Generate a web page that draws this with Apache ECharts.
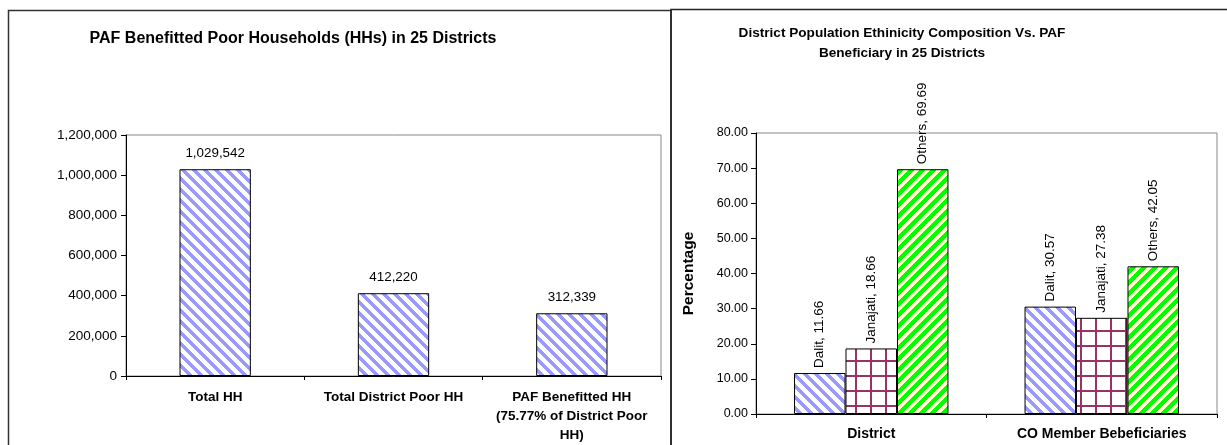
<!DOCTYPE html>
<html>
<head>
<meta charset="utf-8">
<script src="https://cdn.jsdelivr.net/npm/echarts@6/dist/echarts.min.js"></script>
<style>
html,body{margin:0;padding:0;background:#fff;}
#chart{width:1227px;height:445px;}
</style>
</head>
<body>
<div id="chart"></div>
<script>
// ---- data ----
var hhCategories = ['Total HH', 'Total District Poor HH', 'PAF Benefitted HH\n(75.77% of District Poor\nHH)'];
var hhValues = [1029542, 412220, 312339];
var hhTicks = [0, 200000, 400000, 600000, 800000, 1000000, 1200000];

var ethCategories = ['District', 'CO Member Bebeficiaries'];
var dalitValues = [11.66, 30.57];
var janajatiValues = [18.66, 27.38];
var othersValues = [69.69, 42.05];
var ethTicks = [0, 10, 20, 30, 40, 50, 60, 70, 80];

// ---- patterns ----
function stripePattern(bg, fg, dir, period, width) {
  var c = document.createElement('canvas');
  c.width = period; c.height = period;
  var ctx = c.getContext('2d');
  var img = ctx.createImageData(period, period);
  function hex(h){return [parseInt(h.substr(1,2),16),parseInt(h.substr(3,2),16),parseInt(h.substr(5,2),16)];}
  var b = hex(bg), f = hex(fg);
  for (var y = 0; y < period; y++) {
    for (var x = 0; x < period; x++) {
      var k = dir > 0 ? (x - y) : (x + y);
      k = ((k % period) + period) % period;
      var col = k < width ? f : b;
      var i = (y * period + x) * 4;
      img.data[i] = col[0]; img.data[i+1] = col[1]; img.data[i+2] = col[2]; img.data[i+3] = 255;
    }
  }
  ctx.putImageData(img, 0, 0);
  return {image: c, repeat: 'repeat'};
}
function gridPattern(bg, fg, size, lw) {
  var c = document.createElement('canvas');
  c.width = size; c.height = size;
  var ctx = c.getContext('2d');
  ctx.fillStyle = bg; ctx.fillRect(0, 0, size, size);
  ctx.fillStyle = fg;
  ctx.fillRect(0, 0, lw, size);
  ctx.fillRect(0, 0, size, lw);
  return {image: c, repeat: 'repeat'};
}
var blueStripe = stripePattern('#ffffff', '#9999ff', 1, 11, 5);
var greenStripe = stripePattern('#ffffcc', '#00ff00', -1, 11, 6);
var maroonGrid = gridPattern('#ffffff', '#993366', 15, 2);

function commas(v) { return String(v).replace(/\B(?=(\d{3})+(?!\d))/g, ','); }

var FONT = 'Liberation Sans, Arial, sans-serif';

var chart = echarts.init(document.getElementById('chart'), null, {renderer: 'canvas'});

var rotLabel = {
  show: true, position: 'top', rotate: 90, align: 'left', verticalAlign: 'middle',
  distance: 5, color: '#000', fontFamily: FONT, fontSize: 13.5,
  formatter: function (p) { return p.seriesName + ', ' + p.value.toFixed(2); }
};
var barBorder = {borderColor: '#000', borderWidth: 1};

chart.setOption({
  animation: false,
  textStyle: {fontFamily: FONT},
  title: [
    {text: 'PAF Benefitted Poor Households (HHs) in 25 Districts', left: 293, top: 31, textAlign: 'center', padding: 0,
     textStyle: {fontFamily: FONT, fontSize: 16, fontWeight: 'bold', color: '#000'}},
    {text: 'District Population Ethinicity Composition Vs. PAF\nBeneficiary in 25 Districts', left: 902, top: 23, textAlign: 'center', padding: 0,
     textStyle: {fontFamily: FONT, fontSize: 13.6, fontWeight: 'bold', color: '#000', lineHeight: 20}}
  ],
  graphic: [
    {type: 'rect', shape: {x: 8.5, y: 10.5, width: 662.5, height: 460}, style: {fill: 'none', stroke: '#333', lineWidth: 1.5}, z: 100},
    {type: 'rect', shape: {x: 671, y: 9.5, width: 600, height: 460}, style: {fill: 'none', stroke: '#222', lineWidth: 1.5}, z: 100}
  ],
  grid: [
    {left: 126, right: 1227 - 661, top: 135, bottom: 445 - 377, show: true, borderColor: '#888', borderWidth: 1},
    {left: 756, right: 1227 - 1217, top: 133, bottom: 445 - 414, show: true, borderColor: '#888', borderWidth: 1}
  ],
  xAxis: [
    {type: 'category', gridIndex: 0, data: hhCategories,
     axisLine: {lineStyle: {color: '#000', width: 1}},
     axisTick: {show: true, length: 4, lineStyle: {color: '#000'}},
     axisLabel: {interval: 0, margin: 12, fontFamily: FONT, fontSize: 13.5, fontWeight: 'bold', color: '#000', lineHeight: 19}},
    {type: 'category', gridIndex: 1, data: ethCategories,
     axisLine: {lineStyle: {color: '#000', width: 1}},
     axisTick: {show: true, length: 4, lineStyle: {color: '#000'}},
     axisLabel: {interval: 0, margin: 13, fontFamily: FONT, fontSize: 14, fontWeight: 'bold', color: '#000'}}
  ],
  yAxis: [
    {type: 'value', gridIndex: 0, min: hhTicks[0], max: hhTicks[hhTicks.length - 1], interval: hhTicks[1] - hhTicks[0],
     axisLine: {show: true, lineStyle: {color: '#000'}},
     axisTick: {show: true, length: 5, lineStyle: {color: '#000'}},
     splitLine: {show: false},
     axisLabel: {margin: 9, fontFamily: FONT, fontSize: 13.5, color: '#000', formatter: commas}},
    {type: 'value', gridIndex: 1, min: ethTicks[0], max: ethTicks[ethTicks.length - 1], interval: ethTicks[1] - ethTicks[0],
     name: 'Percentage', nameLocation: 'middle', nameGap: 59, nameRotate: 90,
     nameTextStyle: {fontFamily: FONT, fontSize: 15.5, fontWeight: 'bold', color: '#000'},
     axisLine: {show: true, lineStyle: {color: '#000'}},
     axisTick: {show: true, length: 5, lineStyle: {color: '#000'}},
     splitLine: {show: false},
     axisLabel: {margin: 8, fontFamily: FONT, fontSize: 12.5, color: '#000', formatter: function (v) { return v.toFixed(2); }}}
  ],
  series: [
    {type: 'bar', name: 'HH', xAxisIndex: 0, yAxisIndex: 0, data: hhValues, barCategoryGap: '60%',
     itemStyle: Object.assign({color: blueStripe}, barBorder),
     label: {show: true, position: 'top', distance: 9, color: '#000', fontFamily: FONT, fontSize: 13.4,
             formatter: function (p) { return commas(p.value); }}},
    {type: 'bar', name: 'Dalit', xAxisIndex: 1, yAxisIndex: 1, data: dalitValues, barGap: '0%', barCategoryGap: '33%',
     itemStyle: Object.assign({color: blueStripe}, barBorder), label: rotLabel},
    {type: 'bar', name: 'Janajati', xAxisIndex: 1, yAxisIndex: 1, data: janajatiValues, barGap: '0%', barCategoryGap: '33%',
     itemStyle: Object.assign({color: maroonGrid}, barBorder), label: rotLabel},
    {type: 'bar', name: 'Others', xAxisIndex: 1, yAxisIndex: 1, data: othersValues, barGap: '0%', barCategoryGap: '33%',
     itemStyle: Object.assign({color: greenStripe}, barBorder), label: rotLabel}
  ]
});
</script>
</body>
</html>
